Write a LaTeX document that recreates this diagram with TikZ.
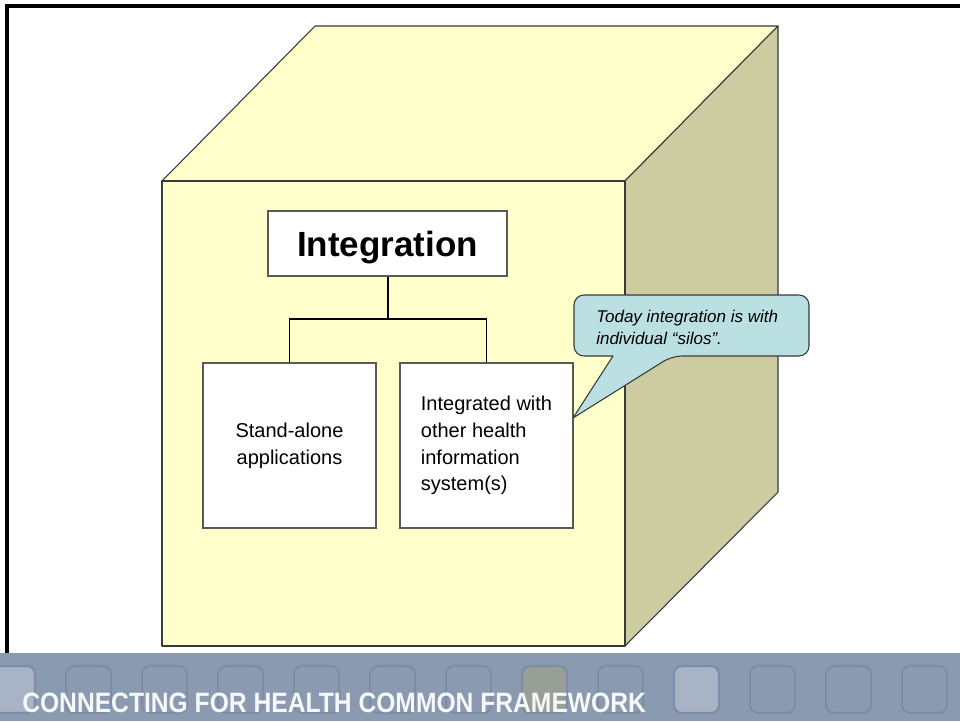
\documentclass[tikz,border=0pt]{standalone}
\usepackage{fontspec}
\setmainfont{Liberation Sans}
\newfontfamily\bannerfont[FakeStretch=0.88]{Liberation Sans}
\definecolor{facefront}{HTML}{FFFFCC}
\definecolor{faceside}{HTML}{CCCCA0}
\definecolor{notefill}{HTML}{BAE0E2}
\definecolor{bannerbg}{HTML}{8A9AB0}
\definecolor{bannerline}{HTML}{7D8DA3}
\definecolor{bannerlight}{HTML}{A8B4C6}
\definecolor{bannerolive}{HTML}{989F96}
\definecolor{edge}{HTML}{3A3A3A}

\begin{document}
\begin{tikzpicture}[x=0.75pt,y=-0.75pt,
    face/.style={draw=edge,line width=0.8pt,line join=round},
    card/.style={draw=black!65,fill=white,line width=1.1pt,inner sep=0pt},
    wire/.style={line width=0.9pt}]
\useasboundingbox (0,0) rectangle (960,721);
\draw [line width=2.4pt] (7,660) -- (7,6) -- (965,6);
% the cube
\draw [face,fill=facefront] (162,181) -- (315,26) -- (778,26) -- (625,181) -- cycle;
\draw [face,fill=faceside] (625,181) -- (778,26) -- (778,492) -- (625,646) -- cycle;
\draw [face,fill=facefront] (162,181) rectangle (625,646);
% the tree
\node [card,minimum width=179.25pt,minimum height=48.75pt,text depth=0pt,
       font=\fontsize{26.25}{30}\selectfont\bfseries] (integ) at (387.5,243.5) {Integration};
\node [card,minimum width=129.75pt,minimum height=123.75pt,align=center,
       font=\fontsize{15}{20}\selectfont] (alone) at (289.5,445.5) {Stand-alone\\applications};
\node [card,minimum width=129.75pt,minimum height=123.75pt,align=left,
       font=\fontsize{15}{20}\selectfont] (linked) at (486.5,445.5) {Integrated with\\other health\\information\\system(s)};
\coordinate (split) at (387.5,319);
\draw [wire,line width=1.5pt] (integ.south) -- (split);
\draw [wire] (alone.north) |- (split) -| (linked.north);
% the callout
\coordinate (tip) at (573,418);
\draw [face,fill=notefill,rounded corners=7.5pt] (574,325) -- (574,295) -- (809,295) -- (809,356)
      -- (672,356) [sharp corners] -- (tip) -- (613,356) [rounded corners=7.5pt] -- (574,356) -- cycle;
\node [anchor=north west,align=left,inner sep=0pt,
       font=\fontsize{12.75}{16.5}\selectfont\itshape] (note) at (596,309.5) {Today integration is with\\individual “silos”.};
% the banner
\fill [bannerbg] (0,653) rectangle (960,721);
\foreach \k/\shade in {0/bannerlight,1/bannerbg,2/bannerbg,3/bannerbg,4/bannerbg,5/bannerbg,6/bannerbg,
                       7/bannerolive,8/bannerbg,9/bannerlight,10/bannerbg,11/bannerbg,12/bannerbg}
  \draw [line width=1.6pt,draw=bannerline,fill=\shade,rounded corners=6pt] (-10+76*\k,666) rectangle ++(45,47);
\node [anchor=base west,inner sep=0pt,text=white!92!bannerbg,
       font=\bannerfont\bfseries\fontsize{21}{24}\selectfont] (banner) at (22,712) {CONNECTING FOR HEALTH COMMON FRAMEWORK};
\end{tikzpicture}
\end{document}
